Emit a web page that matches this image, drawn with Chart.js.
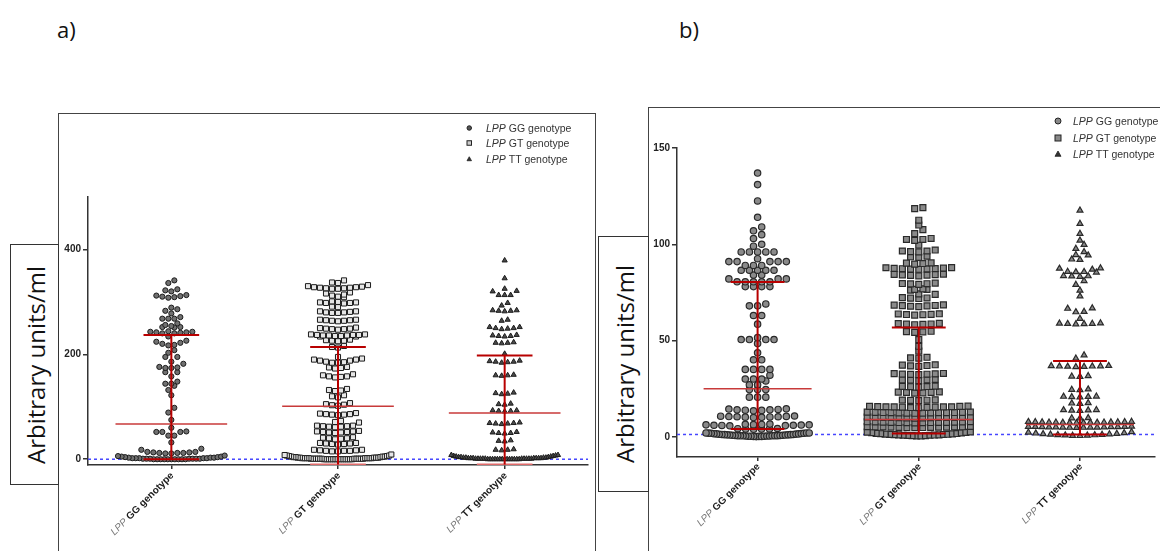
<!DOCTYPE html>
<html>
<head>
<meta charset="utf-8">
<script src="https://cdn.jsdelivr.net/npm/chart.js@4.4.1/dist/chart.umd.min.js"></script>
<style>
  body { margin: 0; width: 1160px; height: 551px; background: #fff; position: relative; overflow: hidden; font-family: 'Liberation Sans', Arial, sans-serif; }
  .tag { position: absolute; font-family: 'Open Sans', sans-serif; font-size: 22px; line-height: 22px; color: #111; }
  .panel { position: absolute; border: 1.5px solid #444; box-sizing: border-box; }
  .ylab { position: absolute; border: 1px solid #333; background: #fff; box-sizing: border-box; }
  .ylab span { position: absolute; left: 50%; top: 50%; transform: translate(-50%, -50%) rotate(-90deg); white-space: nowrap; font-family: 'Open Sans', sans-serif; font-size: 24px; color: #111; }
  canvas { position: absolute; }
  .legend { position: absolute; color: #333; }
  .legend div { display: flex; align-items: center; }
  .legend i { margin-right: 3px; }
</style>
</head>
<body>
<div class="tag" style="left:57px;top:18px">a)</div>
<div class="tag" style="left:679px;top:18px">b)</div>

<div class="panel" style="left:58px;top:113px;width:538px;height:460px"></div>
<div class="panel" style="left:648px;top:107px;width:530px;height:470px"></div>
<canvas id="chartA" width="538" height="438" style="left:58px;top:113px"></canvas>
<canvas id="chartB" width="512" height="444" style="left:648px;top:107px"></canvas>
<div class="ylab" style="left:10px;top:244px;width:49px;height:241px"><span>Arbitrary units/ml</span></div>
<div class="ylab" style="left:598px;top:236px;width:51px;height:256px"><span>Arbitrary units/ml</span></div>
<div class="legend" id="legA" style="left:466px;top:120px;font-size:10.5px"></div>
<div class="legend" id="legB" style="left:1054px;top:113px;font-size:10.5px"></div>

<script>
// categories
const genotypes = ['GG', 'GT', 'TT'];
const catLabels = genotypes.map(g => g + ' genotype');

// a) values
const aGG = [341, 336, 324, 322, 320, 313, 312, 311, 310, 309, 308,
  289, 286, 283, 278, 271, 268, 268, 268,
  259, 256, 254, 252, 252, 251,
  244, 243, 243, 242, 241, 240, 240, 242,
  234, 226, 224, 222, 220, 218, 217, 208, 203, 195, 195, 186, 182,
  176, 175, 174, 174, 166, 166, 158, 148, 144, 144, 140, 132, 122,
  98, 89, 75, 60, 53, 52, 52, 52, 45, 45, 32, 20, 18,
  14, 13, 12, 12, 11, 11, 12, 13, 14,
  0, 0, 1, 0, 2, 1, 0, 3, 1, 0, 2, 0, 1, 4, 0, 2, 1, 0, 5, 3, 0, 2, 1, 6, 0, 3, 1, 4, 2, 5, 7];
const aGT = [341, 337, 336, 332,
  330, 329, 328, 328, 327, 327, 326, 326, 325, 325,
  318, 316, 314, 312, 310, 309,
  301, 300, 299, 299, 298, 298, 297,
  291, 290,
  282, 282, 281, 280, 280, 279, 279,
  266, 266, 265, 265, 264, 264, 263,
  251, 250, 249, 249, 248, 248, 247,
  238, 238, 237, 237, 237, 236, 236, 236, 235, 235, 234, 234,
  228, 227, 226, 226, 225,
  216, 214, 213,
  195, 192, 190, 190, 188, 188, 186, 185, 184, 184,
  176, 175, 174, 173,
  162, 160, 158, 158, 157, 156,
  134, 132, 131, 130,
  122, 120, 118,
  107, 105, 104, 103, 102,
  88, 87, 86, 86, 85, 85, 84,
  73, 71, 70,
  64, 64, 63, 63, 62, 62, 61,
  54, 53, 53, 52, 52, 51, 51, 50,
  42, 41, 40, 40, 39, 38,
  31, 31, 30, 30, 29, 29, 28,
  18, 18, 17, 17, 16, 16, 16, 15, 15,
  0, 1, 0, 2, 0, 1, 3, 0, 2, 1, 0, 4, 1, 0, 2, 5, 0, 1, 3, 0, 2, 6, 1, 0, 4,
  2, 1, 0, 3, 7, 0, 1, 2, 5, 0, 8, 1, 3, 0, 2, 6, 1, 4, 0, 9, 2, 3, 1, 7, 5];
const aTT = [379, 345, 325, 321, 320, 313, 313, 313, 298, 293,
  284, 284, 283, 283, 282, 266, 264,
  252, 252, 250, 250, 249, 248,
  237, 236, 235, 235, 234, 223, 222, 222, 221,
  201, 188, 187, 186, 186, 185, 184,
  161, 160, 160, 159, 127, 126, 125, 124, 106, 105, 104,
  93, 93, 92, 92, 91, 70, 69, 69, 68, 68, 67,
  52, 51, 50, 50, 49, 36, 35, 34, 19, 18, 18, 17,
  0, 0, 1, 0, 2, 1, 0, 3, 1, 0, 2, 0, 1, 4, 0, 2, 1, 0, 5, 3, 0, 2, 1, 6, 0,
  3, 1, 4, 2, 5, 7, 0, 1, 2, 0, 8, 1, 3, 0, 2, 6, 1, 4, 0, 8];
const aMean = [67, 101, 88];
const aSdHigh = [237, 214, 198];
const aSdLow = [0, -10, -10];
const aTicks = [0, 200, 400];
const aBase = 0;

// b) values
const bGG = [137, 131, 122.5, 114, 109, 107, 105, 103, 100, 99,
  96, 96, 96, 96, 96, 92.5, 91, 91, 91, 91, 91, 89, 89, 89,
  86.5, 86.5, 86.5, 86.5, 86.5, 84, 84, 82, 82, 82,
  80.5, 80.5, 80.5, 80.5, 80.5, 78, 78, 78, 78,
  69, 68, 68, 63, 63, 58.5, 51.5, 50.5, 50.5, 50.5, 50.5, 48.5, 43.6,
  40, 40, 35, 35, 35, 35, 32, 30, 30, 30, 29, 27, 27,
  24.5, 24.5, 24.5, 20.6, 20.6, 20.6,
  14.5, 14, 13.8, 14.2, 13.5, 14.4, 14, 13.7,
  10.5, 10.2, 10.8, 10.4, 10, 10.6, 10.3, 10.7, 10.1, 10.4,
  6, 6.3, 5.8, 6.5, 6.1, 5.9, 6.4, 6.2, 5.7, 6.6, 6, 6.2,
  4, 4.2, 3.9, 4.3, 4.1, 4,
  0.2, 0.5, 0.1, 0.8, 0.3, 1.0, 0.4, 1.2, 0.6, 0.2, 1.5, 0.7, 0.3, 1.8, 0.9, 0.4, 2.0, 1.1, 0.5, 1.3,
  0.6, 1.6, 0.2, 1.9, 0.8, 0.3, 1.4, 0.7, 1.7, 0.5, 2.0, 1.0, 0.4, 1.2, 0.9, 1.5, 0.6, 1.8, 1.1, 2.0];
const bGT = [119, 118.5, 112.5, 110, 107.6, 105.5, 102.5, 102, 103, 102.5, 99.5,
  96.5, 96, 97, 96.5, 96.2,
  93.5, 93.8, 93.2,
  90, 90.3, 89.7, 90.2,
  87.4, 87, 87.8, 87.2, 87.5, 87.6, 87.1, 87.9, 87.3,
  84, 84.3, 83.8, 84.5, 83.6, 84.2, 84.1,
  79.5, 79.8, 79.2, 79.6, 79.4,
  76.5, 76.8, 76.2, 76.6,
  74, 74.2,
  72, 71.8, 72.3, 72.1,
  68, 68.4, 67.8, 68.2, 67.6, 68.5, 68.1,
  63.5, 63.8, 63.2, 63.6, 63.4, 63.9,
  58.5, 58.8, 58.2, 58.6, 58.4, 58.9,
  54.5, 54.8, 54.2, 54.6,
  50.5, 47, 44.5,
  41, 41.3, 40.8,
  37, 37.4, 36.8, 37.2, 36.6,
  32.6, 32.9, 32.3, 32.7, 32.5, 32.8, 32.4,
  29.5, 29.8, 29.2, 29.6, 29.4,
  26, 26.3, 25.8, 26.2, 26.1,
  23, 23.3, 22.8, 23.2, 22.7, 23.1,
  19, 19.2, 18.8, 19.1, 18.9,
  15.2, 15.5, 15.8, 15.4, 15.6, 15.3, 15.7, 15.5, 15.9, 15.1, 15.6, 15.4, 15.8,
  12.5, 12.3, 12.7, 12.4, 12.6, 12.2, 12.8, 12.5, 12.4, 12.6, 12.3, 12.7, 12.5, 12.9,
  10, 9.8, 10.2, 9.9, 10.1, 9.7, 10.3, 10, 9.9, 10.1, 9.8, 10.2, 10, 10.4,
  7.5, 7.3, 7.7, 7.4, 7.6, 7.2, 7.8, 7.5, 7.4, 7.6, 7.3, 7.7, 7.5, 7.9,
  5, 4.8, 5.2, 4.9, 5.1, 4.7, 5.3, 5, 4.9, 5.1, 4.8, 5.2, 5, 5.4,
  0.5, 1.2, 0.8, 2.0, 0.6, 1.5, 1.0, 2.3, 0.7, 1.8, 1.1, 2.5,
  0.9, 1.4, 0.5, 2.1, 1.3, 0.6, 1.7, 1.0, 2.4, 0.8, 1.6, 1.2];
const bTT = [117.6, 110.7, 105.5, 102, 99.8, 97.7, 96, 94.3, 94.5, 92, 92.2,
  87.4, 87.6, 86.9, 85.6, 85.8, 85.4, 85.7, 83.4, 83.6, 83.2, 83.5, 81, 79, 76, 73,
  66.6, 66.8, 64.8, 65, 61.4, 58.8, 58.6, 59, 58.7, 58.9, 58.5,
  42.4, 40.7, 36.6, 36.8, 36.4, 36.7, 36.5, 36.9, 36.3, 36.6,
  31.4, 31.6, 31.2, 24.5, 24.7, 24.3, 20.8, 21, 20.6, 20.9, 20.7,
  17.4, 17.6, 17.2, 13.8, 14, 13.6, 13.9, 13.7, 9.6, 9.8, 9.7,
  7.5, 7.3, 7.7, 7.4, 7.6, 7.2, 7.8, 7.5, 7.4, 7.6, 7.3, 7.7, 7.5, 7.9, 7.6, 7.4,
  5, 4.8, 5.2, 4.9, 5.1, 4.7, 5.3, 5, 4.9, 5.1, 4.8, 5.2, 5, 5.4, 5.1, 4.9,
  0.5, 1, 1.5, 0.8, 2, 1.2, 0.6, 2.3, 1.4, 0.9, 1.8, 0.7, 2.5, 1.1, 1.6];
const bMean = [25, 9, 6.4];
const bSdHigh = [80.4, 56.7, 39.4];
const bSdLow = [4, 1.7, 1.2];
const bTicks = [0, 50, 100, 150];
const bBase = 1.2;

// spread each group into rows, like a prism scatter dot plot
function swarm(values, cat, xs, ys, rowPx, stepPx, halfPx) {
  const sorted = values.slice().sort((a, b) => a - b);
  const out = [];
  let i = 0;
  while (i < sorted.length) {
    const base = ys.getPixelForValue(sorted[i]);
    let j = i;
    while (j < sorted.length && base - ys.getPixelForValue(sorted[j]) < rowPx) j++;
    const row = sorted.slice(i, j);
    const n = row.length;
    const step = n > 1 ? Math.min(stepPx, 2 * halfPx / (n - 1)) : 0;
    const slots = row.map((_, k) => (k - (n - 1) / 2) * step)
      .sort((a, b) => Math.abs(a) - Math.abs(b) || a - b);
    const cx = xs.getPixelForValue(cat);
    row.forEach((v, k) => out.push({ x: xs.getValueForPixel(cx + slots[k]), y: v }));
    i = j;
  }
  return out;
}

const baseLine = {
  id: 'baseLine',
  beforeDatasetsDraw(chart, args, opts) {
    const { ctx, chartArea, scales: { y } } = chart;
    const py = y.getPixelForValue(opts.value);
    ctx.save();
    ctx.strokeStyle = '#4646ff';
    ctx.lineWidth = 1.5;
    ctx.setLineDash([3, 3]);
    ctx.beginPath();
    ctx.moveTo(chartArea.left, py);
    ctx.lineTo(chartArea.right, py);
    ctx.stroke();
    ctx.restore();
  }
};

const catText = {
  id: 'catText',
  afterDraw(chart, args, opts) {
    const { ctx, chartArea, scales: { x } } = chart;
    catLabels.forEach((t, i) => {
      ctx.save();
      ctx.translate(x.getPixelForValue(i) + 1, chartArea.bottom + opts.dy);
      ctx.rotate(-Math.PI / 4);
      ctx.textAlign = 'right';
      ctx.textBaseline = 'middle';
      ctx.font = 'bold ' + opts.size + 'px "Liberation Sans"';
      ctx.fillStyle = '#1a1a1a';
      ctx.fillText(t, 0, 0);
      const w = ctx.measureText(t).width;
      ctx.font = 'italic ' + opts.size + 'px "Liberation Sans"';
      ctx.fillStyle = '#7a7a7a';
      ctx.fillText('LPP ', -w, 0);
      ctx.restore();
    });
  }
};

function makePanel(id, p) {
  const red = '#b80000';
  const seg = (pts, color, w) => ({ data: pts, showLine: true, borderColor: color, borderWidth: w, pointRadius: 0, order: 0 });
  const datasets = [];
  p.mean.forEach((m, i) => {
    datasets.push(seg([{ x: i, y: p.lo[i] }, { x: i, y: p.hi[i] }], red, 2));
    datasets.push(seg([{ x: i - 0.167, y: p.hi[i] }, { x: i + 0.167, y: p.hi[i] }], red, 2));
    datasets.push(seg([{ x: i - 0.167, y: p.lo[i] }, { x: i + 0.167, y: p.lo[i] }], p.lo[i] < 0 ? '#e06a6a' : red, 2));
    datasets.push(seg([{ x: i - 0.335, y: m }, { x: i + 0.335, y: m }], '#c83a3a', 1.5));
  });
  const first = datasets.length;
  p.groups.forEach((g, i) => datasets.push({
    label: 'LPP ' + catLabels[i],
    data: [],
    pointStyle: p.styles[i],
    pointRadius: p.radius[i],
    backgroundColor: p.fill[i],
    borderColor: p.stroke,
    borderWidth: p.bw,
    order: 1
  }));

  const axisGrid = len => ({ drawOnChartArea: false, drawTicks: true, tickLength: len, color: '#333', lineWidth: 1.5 });
  const chart = new Chart(document.getElementById(id), {
    type: 'scatter',
    data: { datasets },
    options: {
      responsive: false,
      animation: false,
      events: [],
      layout: { padding: { top: p.padTop, right: p.padRight, left: 0, bottom: 0 } },
      scales: {
        x: {
          type: 'linear', min: -0.5, max: p.xMax,
          afterBuildTicks: s => { s.ticks = [0, 1, 2].map(v => ({ value: v })); },
          afterFit: s => { s.height = p.xH; },
          ticks: { display: false },
          grid: axisGrid(4),
          border: { color: '#333', width: 1.5 }
        },
        y: {
          min: p.yMin, max: p.yMax,
          afterBuildTicks: s => { s.ticks = p.ticks.map(v => ({ value: v })); },
          afterFit: s => { s.width = p.yW; },
          ticks: { font: { family: 'Liberation Sans', size: 10, weight: 'bold' }, color: '#222', padding: 2 },
          grid: axisGrid(5),
          border: { color: '#333', width: 1.5 }
        }
      },
      plugins: {
        legend: { display: false },
        tooltip: { enabled: false },
        baseLine: { value: p.base },
        catText: { size: 10, dy: p.labelDy }
      }
    },
    plugins: [baseLine, catText]
  });

  const xs = chart.scales.x, ys = chart.scales.y;
  const perCat = xs.getPixelForValue(1) - xs.getPixelForValue(0);
  p.groups.forEach((vals, i) => {
    chart.data.datasets[first + i].data = swarm(vals, i, xs, ys, p.rowPx, p.stepPx, 0.32 * perCat);
  });
  chart.update('none');
  return chart;
}

makePanel('chartA', {
  groups: [aGG, aGT, aTT], mean: aMean, hi: aSdHigh, lo: aSdLow,
  ticks: aTicks, base: aBase, yMin: -11, yMax: 500, xMax: 2.5,
  padTop: 84, padRight: 8, yW: 30, xH: 86, labelDy: 9,
  styles: ['circle', 'rect', 'triangle'], radius: [2.6, 3.6, 3.0],
  fill: ['#707070', '#e6e6e6', '#4a4a4a'], stroke: '#1c1c1c', bw: 1,
  rowPx: 5, stepPx: 6
});

makePanel('chartB', {
  groups: [bGG, bGT, bTT], mean: bMean, hi: bSdHigh, lo: bSdLow,
  ticks: bTicks, base: bBase, yMin: -10.5, yMax: 150, xMax: 2.463,
  padTop: 41, padRight: 0, yW: 29, xH: 94, labelDy: 8,
  styles: ['circle', 'rect', 'triangle'], radius: [3.2, 4.2, 3.4],
  fill: ['#8a8a8a', '#8a8a8a', '#8a8a8a'], stroke: '#2a2a2a', bw: 1.2,
  rowPx: 4.5, stepPx: 8.3
});

// legends
function marker(i, s, fill) {
  const c = s / 2 + 1;
  if (i === 0) return `<circle cx="${c}" cy="6" r="${s / 2}" fill="${fill}" stroke="#222" stroke-width="1"/>`;
  if (i === 1) return `<rect x="${c - s / 2}" y="${6 - s / 2}" width="${s}" height="${s}" fill="${fill}" stroke="#222" stroke-width="1"/>`;
  return `<polygon points="${c - s / 2},${6 + s / 2.6} ${c + s / 2},${6 + s / 2.6} ${c},${6 - s / 2}" fill="#333" stroke="#222" stroke-width="0.8"/>`;
}
function legend(id, rowH, size, fills, svgW) {
  document.getElementById(id).innerHTML = genotypes.map((g, i) =>
    `<div style="height:${rowH}px"><svg width="${svgW}" height="12">${marker(i, size, fills[i])}</svg><i>LPP</i>${g} genotype</div>`
  ).join('');
}
legend('legA', 15.5, 4.5, ['#555', '#ccc', '#333'], 20);
legend('legB', 16.5, 6, ['#888', '#888', '#888'], 19);
</script>
</body>
</html>
